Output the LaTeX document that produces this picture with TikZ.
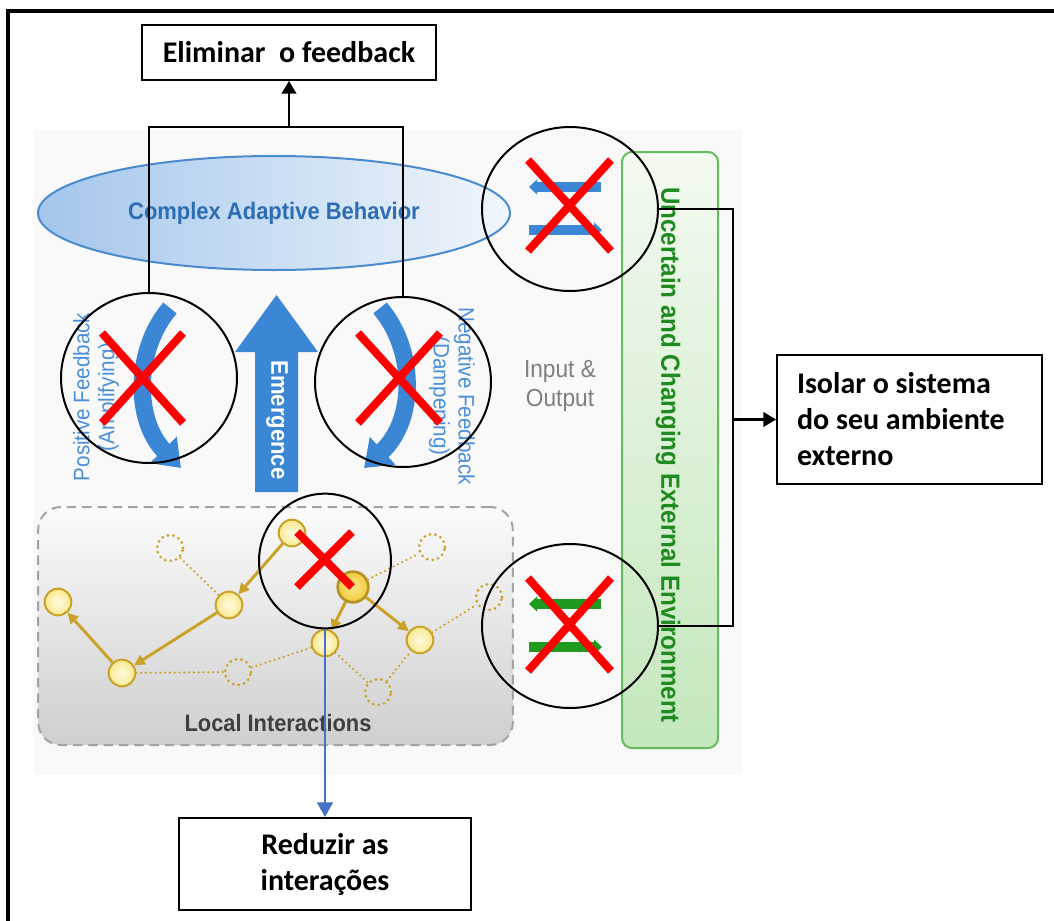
\documentclass[tikz,border=0pt]{standalone}
\usepackage{fontspec}
\setmainfont{Carlito}
\newfontfamily\artfont[FakeStretch=0.92]{Liberation Sans}
\usetikzlibrary{arrows.meta,shapes.geometric}

\definecolor{flowBlue}{HTML}{3C87D5}
\definecolor{cabText}{HTML}{2D6DB4}
\definecolor{cabEdge}{HTML}{4A8ACF}
\definecolor{cabLeft}{HTML}{A4C6EC}
\definecolor{cabRight}{HTML}{F1F6FC}
\definecolor{fbText}{HTML}{4A8FD8}
\definecolor{ioGray}{HTML}{7F7F7F}
\definecolor{envEdge}{HTML}{66BB5E}
\definecolor{envTop}{HTML}{F3FAF1}
\definecolor{envBottom}{HTML}{C4E7BC}
\definecolor{envText}{HTML}{1F8A1F}
\definecolor{envBar}{HTML}{1E9A1E}
\definecolor{gold}{HTML}{C9A227}
\definecolor{agentIn}{HTML}{FFFBE3}
\definecolor{agentOut}{HTML}{F9E98F}
\definecolor{hotIn}{HTML}{FCE98A}
\definecolor{hotOut}{HTML}{EFCB3C}
\definecolor{liTop}{HTML}{FBFBFB}
\definecolor{liBottom}{HTML}{CFCFCF}
\definecolor{liEdge}{HTML}{A3A3A3}
\definecolor{liText}{HTML}{3F3F3F}
\definecolor{crossRed}{HTML}{FF0000}
\definecolor{linkBlue}{HTML}{4472C4}
\definecolor{artBack}{HTML}{F9F9F9}

\tikzset{
  textbox/.style={draw=black, line width=1.5pt, fill=white,
    font=\bfseries\fontsize{22.5}{27}\selectfont, inner sep=0pt, align=center},
  ring/.style={ellipse, draw=black, line width=1.5pt, inner sep=0pt},
  redcross/.style={crossRed, line width=6pt},
  agent/.style={circle, draw=gold, line width=1.5pt, inner color=agentIn,
    outer color=agentOut, minimum size=20pt, inner sep=0pt},
  hotagent/.style={circle, draw=gold!90!black, line width=2pt, inner color=hotIn,
    outer color=hotOut, minimum size=23pt, inner sep=0pt},
  ghostagent/.style={circle, draw=gold, line width=2.3pt, line cap=round,
    dash pattern=on 0pt off 4.2pt, minimum size=19.5pt, inner sep=0pt},
  agentlink/.style={gold, line width=2.2pt, -{Triangle[length=8pt,width=8pt]}},
  weaklink/.style={gold, line width=1.8pt, line cap=round, dash pattern=on 0pt off 3.6pt},
  feedback/.style={flowBlue, line width=13pt, -{Triangle[length=19pt,width=27pt]}},
  iobar/.style={line width=7.5pt, -{Triangle[length=6pt,width=11pt]}},
  connector/.style={black, line width=1.6pt},
  headtip/.style={-{Triangle[length=9.5pt,width=11pt]}},
  arttext/.style={font=\artfont\fontsize{16.8}{18.75}\selectfont, align=center, inner sep=0pt},
}

\begin{document}
\begin{tikzpicture}[x=0.75pt,y=-0.75pt]
\useasboundingbox (0,0) rectangle (1054,921);

% page frame
\draw[line width=2.3pt] (8,921) -- (8,11) -- (1054,11);

% backdrop of the model figure
\fill[artBack] (33,130) rectangle (742,775);

% complex adaptive behaviour
\node[ellipse, minimum width=354pt, minimum height=85.5pt, draw=cabEdge, line width=1.5pt,
      left color=cabLeft, right color=cabRight, inner sep=0pt, text=cabText,
      font=\artfont\bfseries\fontsize{17.9}{20}\selectfont] (cab) at (274,213)
      {Complex Adaptive Behavior};

% feedback loops
\draw[feedback] (170,308) .. controls (134,350) and (134,420) .. (181,468);
\draw[feedback] (380,308) .. controls (416,350) and (416,420) .. (364,468);
\node[arttext, text=fbText, rotate=90] (posfb) at (96,397) {Positive Feedback\\(Amplifying)};
\node[arttext, text=fbText, rotate=-90] (negfb) at (452,396) {Negative Feedback\\(Dampening)};

% emergence
\fill[flowBlue] (255,492) -- (255,352) -- (235,352) -- (276.5,295) -- (318,352)
  -- (298,352) -- (298,492) -- cycle;
\node[font=\artfont\bfseries\fontsize{18}{20}\selectfont, text=white, rotate=-90, inner sep=0pt]
  (emerg) at (277,420) {Emergence};

% input and output
\node[arttext, text=ioGray, font=\artfont\fontsize{18.5}{22}\selectfont] (io) at (560,386)
  {Input \&\\Output};

% local interactions
\node[draw=liEdge, line width=1.5pt, dash pattern=on 7pt off 4.5pt, rounded corners=17pt,
      top color=liTop, bottom color=liBottom, minimum width=356pt, minimum height=178.5pt,
      inner sep=0pt] (li) at (275.5,626) {};
\node[font=\artfont\bfseries\fontsize{17.8}{20}\selectfont, text=liText, inner sep=0pt]
  (litext) at (278,723) {Local Interactions};

\node[agent] (n1) at (58,602) {};
\node[agent] (n2) at (122,673) {};
\node[agent] (n3) at (229,605) {};
\node[agent] (n4) at (292,533) {};
\node[hotagent] (n5) at (353,587) {};
\node[agent] (n6) at (325,643) {};
\node[agent] (n7) at (420,640) {};
\node[ghostagent] (d1) at (170,548) {};
\node[ghostagent] (d2) at (238,672) {};
\node[ghostagent] (d3) at (432,547) {};
\node[ghostagent] (d4) at (378,692) {};
\node[ghostagent] (d5) at (489,597) {};

\draw[weaklink] (d1) -- (n3);
\draw[weaklink] (n5) -- (d3);
\draw[weaklink] (n2) -- (d2);
\draw[weaklink] (d2) -- (n6);
\draw[weaklink] (n6) -- (d4);
\draw[weaklink] (d4) -- (n7);
\draw[weaklink] (n7) -- (d5);
\draw[agentlink] (n2) -- (n1);
\draw[agentlink] (n3) -- (n2);
\draw[agentlink] (n4) -- (n3);
\draw[agentlink] (n5) -- (n6);
\draw[agentlink] (n5) -- (n7);

% uncertain and changing external environment
\node[draw=envEdge, line width=1.5pt, rounded corners=7.5pt, top color=envTop,
      bottom color=envBottom, minimum width=72pt, minimum height=447pt, inner sep=0pt]
  (env) at (670,450) {};
\node[font=\artfont\bfseries\fontsize{19.7}{22}\selectfont, text=envText, rotate=-90,
      inner sep=0pt] (envtext) at (668,455) {Uncertain and Changing External Environment};

% exchange with the environment
\draw[flowBlue, iobar] (601,187) -- (529,187);
\draw[flowBlue, iobar] (529,230) -- (602,230);
\draw[envBar, iobar] (601,604) -- (529,604);
\draw[envBar, iobar] (529,647) -- (602,647);

% marked elements
\node[ring, minimum width=132pt, minimum height=127.5pt] (cL) at (149,378) {};
\node[ring, minimum width=132pt, minimum height=127.5pt] (cR) at (403,382) {};
\node[ring, minimum width=99pt, minimum height=101pt] (cM) at (325,561) {};
\node[ring, minimum width=132pt, minimum height=123pt] (cT) at (570,209) {};
\node[ring, minimum width=132pt, minimum height=123pt] (cB) at (570,626) {};

\draw[redcross] (102,333) -- (183,423) (183,333) -- (102,423);
\draw[redcross] (358,333) -- (440,423) (440,333) -- (358,423);
\draw[redcross] (297,532) -- (352,587) (352,532) -- (297,587);
\draw[redcross] (528,160) -- (611,251) (611,160) -- (528,251);
\draw[redcross] (528,578) -- (611,671) (611,578) -- (528,671);

% actions
\node[textbox, minimum width=220.5pt, minimum height=41.25pt] (elim) at (289,52.5)
  {Eliminar\ \ o feedback};
\node[textbox, align=flush left, text width=168.75pt, inner xsep=15pt, minimum height=96.75pt]
  (isolar) at (909.5,419.5) {Isolar o sistema\\do seu ambiente\\externo};
\node[textbox, minimum width=219pt, minimum height=69pt] (reduzir) at (325,864)
  {Reduzir as\\interações};

\coordinate (fbJoin) at (289,127);
\draw[connector] (cL.north) |- (fbJoin) -| (cR.north);
\draw[connector, headtip] (fbJoin) -- (elim.south);

\coordinate (envJoin) at (733,419.5);
\draw[connector] (cT.east) -| (envJoin) |- (cB.east);
\draw[connector, headtip] (envJoin) -- (isolar.west);

\draw[linkBlue, line width=0.9pt, -{Triangle[length=11pt,width=12pt]}] (cM.south) -- (reduzir.north);
\end{tikzpicture}
\end{document}
